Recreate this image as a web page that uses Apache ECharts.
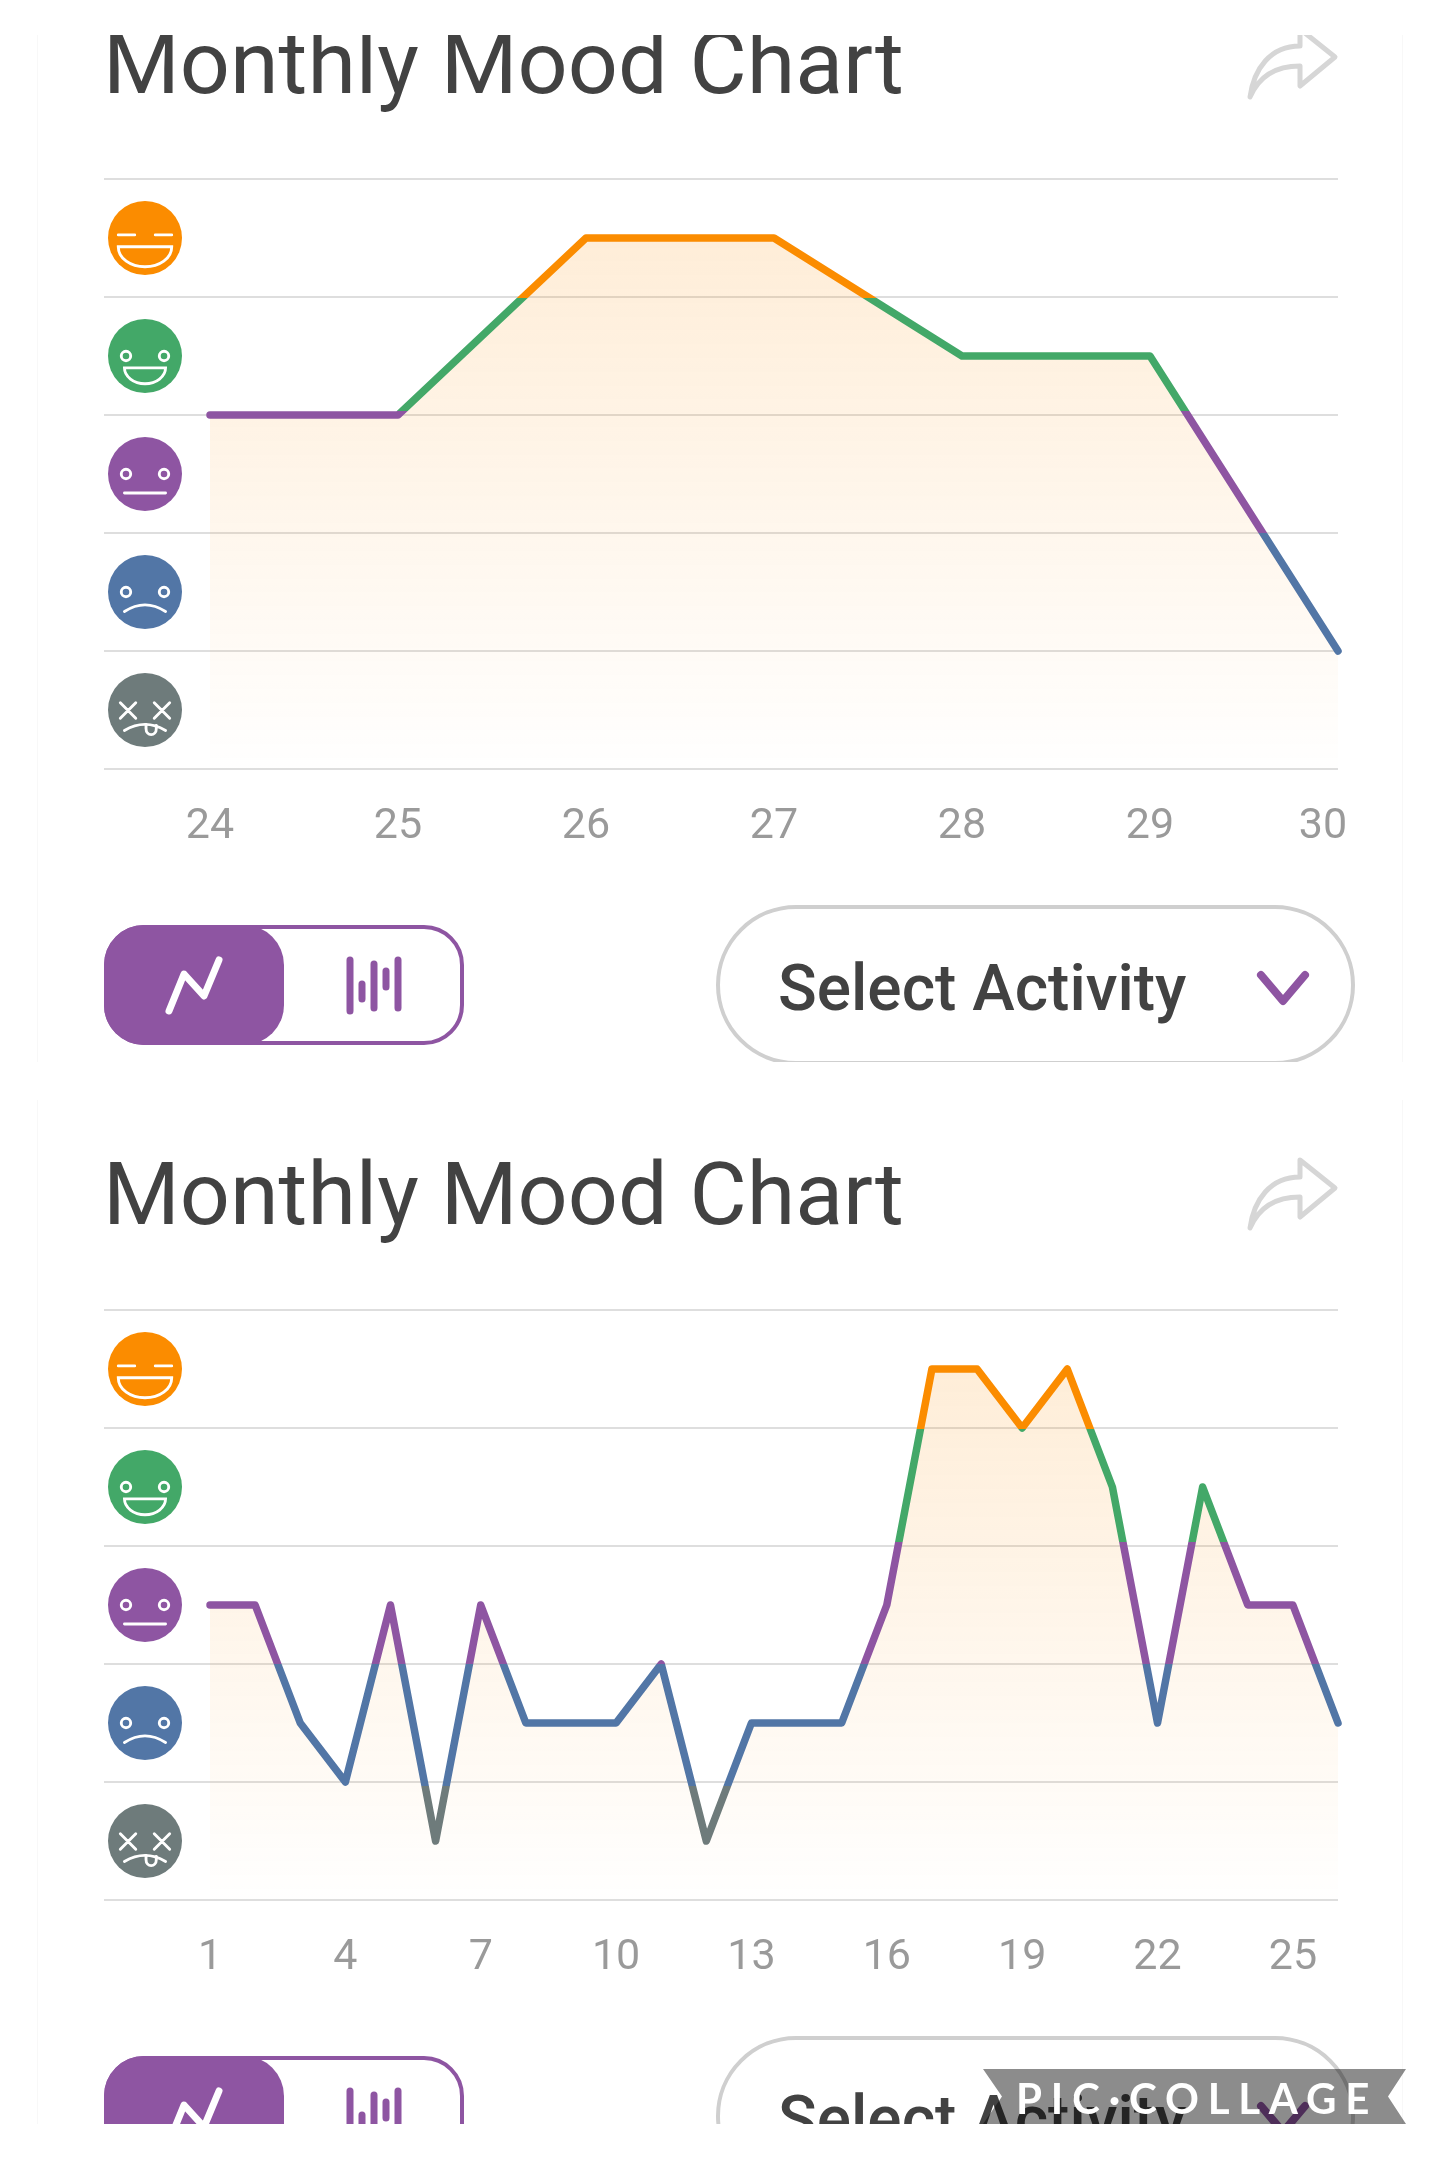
<!DOCTYPE html>
<html>
<head>
<meta charset="utf-8">
<title>Monthly Mood Chart</title>
<script src="https://cdn.jsdelivr.net/npm/echarts@6/dist/echarts.min.js"></script>
<style>
  html, body { margin: 0; padding: 0; background: #fff; }
  body { position: relative; width: 1440px; height: 2160px; overflow: hidden; font-family: Roboto, sans-serif; }
  .panel { position: absolute; left: 0; width: 1440px; overflow: hidden; }
  #panel-top { top: -31px; height: 1093px; clip-path: inset(66px 0 0 0); }
  #panel-bottom { top: 1100px; height: 1024px; }
  .edge { position: absolute; left: 37px; top: 0; width: 1364px; height: 100%; border-left: 1px solid #f8f8f8; border-right: 1px solid #f8f8f8; }
  .chart { position: absolute; left: 0; top: 0; width: 1440px; height: 940px; }
  .title { position: absolute; left: 103px; top: 44px; font-size: 88px; line-height: 100px; color: #424242; white-space: nowrap; }
  .share { position: absolute; left: 1238px; top: 50px; width: 110px; height: 90px; }
  .toggle { position: absolute; left: 104px; top: 956px; width: 360px; height: 120px; box-sizing: border-box; border: 4px solid #8e55a2; border-radius: 40px; }
  .toggle .on { position: absolute; left: -4px; top: -4px; width: 180px; height: 120px; background: #8e55a2; border-radius: 40px; }
  .toggle svg { position: absolute; left: -4px; top: -4px; width: 359px; height: 120px; }
  .select { position: absolute; left: 716px; top: 936px; width: 639px; height: 160px; box-sizing: border-box; border: 4px solid #cfcfcf; border-radius: 80px; background: #fff; }
  .select-text { position: absolute; left: 778px; top: 980px; font-size: 64px; line-height: 80px; font-weight: 500; color: #424242; white-space: nowrap; }
  .chevron { position: absolute; left: 1248px; top: 996px; width: 70px; height: 46px; }
  #stamp { position: absolute; left: 983px; top: 2069px; width: 423px; height: 55px; background: rgba(0,0,0,.45);
    clip-path: polygon(0 0, 100% 0, 405px 50%, 100% 100%, 0 100%, 19px 50%); }
  #stamp-text { position: absolute; left: 1016px; top: 2069px; height: 55px; line-height: 58px; font-family: Lato, sans-serif; font-weight: 700; font-size: 42px; letter-spacing: 8.8px; color: #fff; white-space: nowrap; }
</style>
</head>
<body>
<div class="panel" id="panel-top"></div>
<div class="panel" id="panel-bottom"></div>
<div id="stamp"></div>
<div id="stamp-text">PIC·COLLAGE</div>

<script>
const titleText = 'Monthly Mood Chart';
const selectText = 'Select Activity';

// moods bottom to top, one band each on the y axis
const moods = ['dead', 'sad', 'neutral', 'happy', 'great'];

const weekDays = ['24', '25', '26', '27', '28', '29', '30'];
const weekMood = [3, 3, 4.5, 4.5, 3.5, 3.5, 1];

const monthDays = ['1', '2', '3', '4', '5', '6', '7', '8', '9', '10', '11', '12', '13',
  '14', '15', '16', '17', '18', '19', '20', '21', '22', '23', '24', '25', '26'];
const monthMood = [2.5, 2.5, 1.5, 1, 2.5, 0.5, 2.5, 1.5, 1.5, 1.5, 2, 0.5, 1.5,
  1.5, 1.5, 2.5, 4.5, 4.5, 4, 4.5, 3.5, 1.5, 3.5, 2.5, 2.5, 1.5];

const PURPLE = '#8e55a2';
const moodColors = { dead: '#6e7b7b', sad: '#5276a6', neutral: PURPLE, happy: '#43a868', great: '#fb8c00' };

const eyes = '<circle cx="17.5" cy="36" r="4.6"/><circle cx="54.5" cy="36" r="4.6"/>';
const faceParts = {
  great: '<path d="M10 33H26M46 33H62"/><path d="M10 44.5H62C62 56 50 64 36 64S10 56 10 44.5Z"/>',
  happy: eyes + '<path d="M16 47.5H56C56 56 47 63 36 63S16 56 16 47.5Z"/>',
  neutral: eyes + '<path d="M16 54.5H56"/>',
  sad: eyes + '<path d="M16 55Q36 42 56 55"/>',
  dead: '<path d="M12 29L27 44M27 29L12 44M45 29L60 44M60 29L45 44"/><path d="M16 56Q36 44 56 56"/><path d="M37 50V54C37 62 47 62 47 54V51"/>'
};

function faceImage(mood) {
  const svg = '<svg xmlns="http://www.w3.org/2000/svg" width="74" height="74" viewBox="0 0 72 72">'
    + '<circle cx="36" cy="36" r="36" fill="' + moodColors[mood] + '"/>'
    + '<g fill="none" stroke="#fff" stroke-width="2.8" stroke-linecap="round">' + faceParts[mood] + '</g></svg>';
  return 'data:image/svg+xml;charset=utf-8,' + encodeURIComponent(svg);
}

const faceRich = {};
moods.forEach(m => {
  faceRich[m] = { width: 74, height: 74, backgroundColor: { image: faceImage(m) } };
});

function buildPanel(panelId, days, values, labelInterval) {
  const panel = document.getElementById(panelId);
  panel.innerHTML = `
    <div class="edge"></div>
    <div class="chart"></div>
    <div class="title">${titleText}</div>
    <svg class="share" viewBox="0 0 110 90"><path d="M12 78C16 50 32 27 62 27V10L97 38L62 67V47C40 47 22 55 12 78Z" fill="none" stroke="#d6d6d6" stroke-width="5" stroke-linejoin="round"/></svg>
    <div class="toggle">
      <div class="on"></div>
      <svg viewBox="0 0 359 120" fill="none" stroke-linecap="round" stroke-linejoin="round">
        <path d="M65 86L80 49L100 71L115 35" stroke="#fff" stroke-width="7"/>
        <path d="M246 35V86M258 59V74M270 39V83M282 46V62M294 35V83" stroke="${PURPLE}" stroke-width="7"/>
      </svg>
    </div>
    <div class="select"></div>
    <div class="select-text">${selectText}</div>
    <svg class="chevron" viewBox="0 0 70 46"><path d="M13 10L35 36L57 10" fill="none" stroke="${PURPLE}" stroke-width="8" stroke-linecap="round" stroke-linejoin="round"/></svg>
  `;

  const chart = echarts.init(panel.querySelector('.chart'));
  chart.setOption({
    animation: false,
    grid: [
      { left: 104, width: 1234, top: 210, height: 590 }, // gridlines and faces
      { left: 210, width: 1128, top: 210, height: 590 }  // the mood line
    ],
    xAxis: [
      { gridIndex: 0, type: 'value', min: 0, max: 1, show: false },
      {
        gridIndex: 1, type: 'category', boundaryGap: false, data: days,
        axisLine: { show: false }, axisTick: { show: false }, splitLine: { show: false },
        axisLabel: {
          interval: labelInterval - 1, margin: 37, color: '#9a9a9a', fontSize: 43, fontFamily: 'Roboto',
          formatter: (v, i) => (i === days.length - 1 ? '{last|' + v + '}' : v),
          rich: { last: { color: '#9a9a9a', fontSize: 43, fontFamily: 'Roboto', padding: [0, 30, 0, 0] } }
        }
      }
    ],
    yAxis: [
      {
        gridIndex: 0, type: 'category', data: moods,
        axisLine: { show: false }, axisTick: { show: false },
        splitLine: { show: true, lineStyle: { color: '#dedede', width: 2 } },
        axisLabel: { inside: true, interval: 0, margin: 4, formatter: v => '{' + v + '|}', rich: faceRich }
      },
      { gridIndex: 1, type: 'value', min: 0, max: 5, show: false, splitLine: { show: false } }
    ],
    visualMap: {
      show: false, type: 'piecewise', seriesIndex: 0, dimension: 1,
      pieces: [
        { lt: 0.97, color: moodColors.dead },
        { gte: 0.97, lt: 2, color: moodColors.sad },
        { gte: 2, lt: 3.03, color: moodColors.neutral },
        { gte: 3.03, lt: 3.99, color: moodColors.happy },
        { gte: 3.99, color: moodColors.great }
      ]
    },
    series: [{
      type: 'line', xAxisIndex: 1, yAxisIndex: 1, data: values,
      showSymbol: false, symbol: 'none', smooth: false,
      lineStyle: { width: 7.5, cap: 'round', join: 'round' },
      areaStyle: {
        color: new echarts.graphic.LinearGradient(0, 0, 0, 1, [
          { offset: 0, color: 'rgba(251,140,0,0.22)' },
          { offset: 1, color: 'rgba(251,140,0,0.005)' }
        ])
      }
    }]
  });
}

buildPanel('panel-top', weekDays, weekMood, 1);
buildPanel('panel-bottom', monthDays, monthMood, 3);
</script>
</body>
</html>
